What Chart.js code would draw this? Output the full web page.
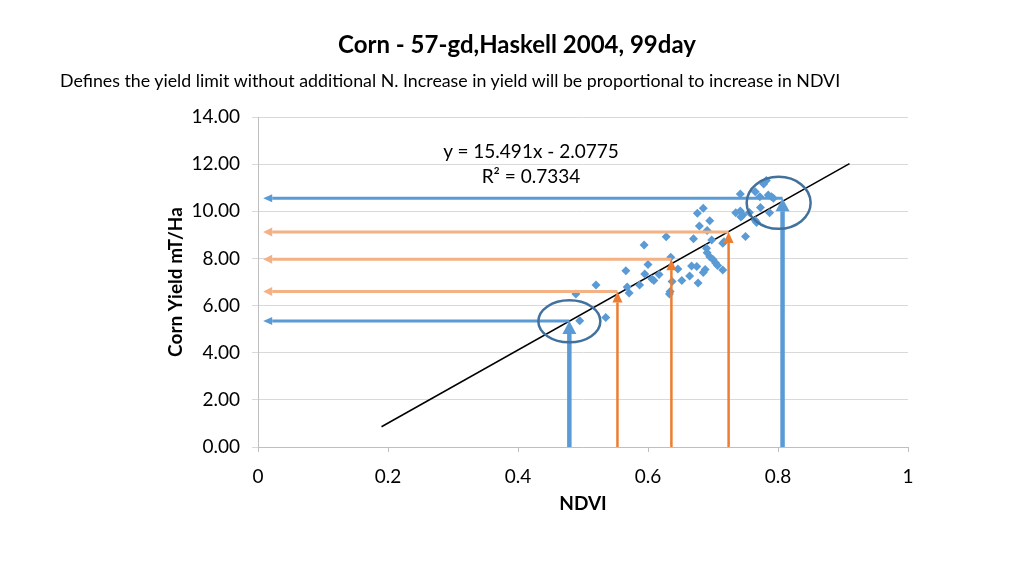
<!DOCTYPE html>
<html>
<head>
<meta charset="utf-8">
<script src="https://cdn.jsdelivr.net/npm/chart.js@4.4.0/dist/chart.umd.min.js"></script>
<style>
body{margin:0;background:#fff;font-family:Lato,'Open Sans',sans-serif;}
#wrap{position:relative;width:1024px;height:576px;overflow:hidden;}
canvas{position:absolute;left:0;top:0;}
.t{position:absolute;white-space:nowrap;color:#000;}
#title{left:0;width:1034px;top:29px;text-align:center;font-size:24px;font-weight:bold;}
#sub{left:60px;top:69px;font-size:17.8px;}
#eq{left:381px;width:300px;top:139px;text-align:center;font-size:19px;}
#r2{left:381px;width:300px;top:164px;text-align:center;font-size:19px;}
</style>
</head>
<body>
<div id="wrap">
<canvas id="chart" width="1024" height="576"></canvas>
<div class="t" id="title">Corn - 57-gd,Haskell 2004, 99day</div>
<div class="t" id="sub">Defines the yield limit without additional N. Increase in yield will be proportional to increase in NDVI</div>
<div class="t" id="eq">y = 15.491x - 2.0775</div>
<div class="t" id="r2">R² = 0.7334</div>
</div>
<script>
// scatter data
const ndvi = [0.489,0.495,0.535,0.520,0.566,0.568,0.571,0.587,0.594,0.600,
              0.595,0.606,0.609,0.617,0.628,0.635,0.634,0.633,0.637,0.646,
              0.652,0.667,0.675,0.664,0.677,0.670,0.676,0.685,0.679,0.695,
              0.691,0.698,0.690,0.691,0.695,0.700,0.704,0.707,0.685,0.688,
              0.715,0.715,0.742,0.735,0.742,0.746,0.743,0.756,0.765,0.772,
              0.773,0.782,0.778,0.785,0.790,0.793,0.787,0.765,0.767,0.750,0.717];
const yieldT = [6.49,5.36,5.49,6.87,7.48,6.79,6.53,6.87,8.57,7.74,
                7.34,7.13,7.06,7.32,8.92,8.05,6.60,6.49,7.02,7.55,
                7.06,7.68,7.66,7.25,6.96,8.84,9.92,10.13,9.38,9.60,
                9.18,8.78,8.43,8.24,8.07,7.95,7.81,7.70,7.40,7.53,
                7.51,8.64,10.73,9.94,10.01,9.84,9.76,9.95,10.83,10.62,
                10.16,11.31,11.16,10.69,10.62,10.55,9.94,9.61,9.52,8.93,8.71];

// trend line end points
const trendX = [0.19, 0.91];
const trendY = [0.86, 12.02];

// reading arrows: ndvi where the arrow starts and yield level it points to
const blueNdvi = [0.479, 0.807];
const blueLevel = [5.35, 10.55];
const orangeNdvi = [0.553, 0.636, 0.724];
const orangeLevel = [6.6, 7.97, 9.12];
const arrowTipX = 0.008;

// circled points (centres)
const circleX = [0.479, 0.801];
const circleY = [5.33, 10.36];

const xTickLabels = ['0','0.2','0.4','0.6','0.8','1'];
const yTickLabels = ['0.00','2.00','4.00','6.00','8.00','10.00','12.00','14.00'];

const BLUE = '#5B9BD5', ORANGE = '#ED7D31', PEACH = '#F4B183', RING = '#41719C';

function arrow(ctx, x0, y0, x1, y1, color, width, head, headW){
  const ang = Math.atan2(y1 - y0, x1 - x0);
  const bx = x1 - head * Math.cos(ang), by = y1 - head * Math.sin(ang);
  ctx.strokeStyle = color; ctx.lineWidth = width;
  ctx.beginPath(); ctx.moveTo(x0, y0); ctx.lineTo(bx, by); ctx.stroke();
  ctx.fillStyle = color;
  ctx.beginPath();
  ctx.moveTo(x1, y1);
  ctx.lineTo(bx + headW/2 * Math.sin(ang), by - headW/2 * Math.cos(ang));
  ctx.lineTo(bx - headW/2 * Math.sin(ang), by + headW/2 * Math.cos(ang));
  ctx.closePath(); ctx.fill();
}

const overlay = {
  id: 'overlay',
  afterDatasetsDraw(chart){
    const ctx = chart.ctx, xs = chart.scales.x, ys = chart.scales.y;
    ctx.save();
    // horizontal readings
    orangeNdvi.forEach((v, i) => {
      const yy = ys.getPixelForValue(orangeLevel[i]);
      arrow(ctx, xs.getPixelForValue(v), yy, xs.getPixelForValue(arrowTipX), yy, PEACH, 3, 9, 9);
    });
    blueNdvi.forEach((v, i) => {
      const yy = ys.getPixelForValue(blueLevel[i]);
      arrow(ctx, xs.getPixelForValue(v), yy, xs.getPixelForValue(arrowTipX), yy, BLUE, 3, 9, 8);
    });
    // vertical arrows from the axis
    orangeNdvi.forEach((v, i) => {
      const xx = xs.getPixelForValue(v);
      arrow(ctx, xx, ys.getPixelForValue(0), xx, ys.getPixelForValue(orangeLevel[i]), ORANGE, 2.5, 11, 10);
    });
    blueNdvi.forEach((v, i) => {
      const xx = xs.getPixelForValue(v);
      arrow(ctx, xx, ys.getPixelForValue(0), xx, ys.getPixelForValue(blueLevel[i]), BLUE, 4.5, 13, 14);
    });
    // rings
    ctx.strokeStyle = RING; ctx.lineWidth = 2.5;
    const radii = [[31, 21], [32, 26]];
    circleX.forEach((v, i) => {
      ctx.beginPath();
      ctx.ellipse(xs.getPixelForValue(v), ys.getPixelForValue(circleY[i]), radii[i][0], radii[i][1], 0, 0, Math.PI * 2);
      ctx.stroke();
    });
    ctx.restore();
  }
};

const tickFont = {family: 'Lato', size: 19};
const titleFont = {family: 'Lato', size: 19, weight: 'bold'};

new Chart(document.getElementById('chart').getContext('2d'), {
  type: 'scatter',
  data: {
    datasets: [{
      label: 'Yield',
      data: ndvi.map((v, i) => ({x: v, y: yieldT[i]})),
      pointStyle: 'rectRot',
      pointRadius: 4.5,
      backgroundColor: BLUE,
      borderColor: BLUE,
      borderWidth: 0
    }, {
      label: 'Trend',
      type: 'line',
      data: trendX.map((v, i) => ({x: v, y: trendY[i]})),
      borderColor: '#000',
      borderWidth: 1.5,
      pointRadius: 0,
      fill: false
    }]
  },
  options: {
    responsive: false,
    animation: false,
    devicePixelRatio: 1,
    layout: {padding: {left: 164, right: 116, top: 117, bottom: 61}},
    plugins: {legend: {display: false}, tooltip: {enabled: false}},
    scales: {
      x: {
        type: 'linear', min: 0, max: 1,
        afterFit: s => { s.height = 68; },
        ticks: {stepSize: 0.2, color: '#000', font: tickFont, padding: 13,
                callback: (v, i) => xTickLabels[i]},
        grid: {drawOnChartArea: false, tickLength: 5, color: '#bfbfbf'},
        border: {color: '#bfbfbf'},
        title: {display: true, text: 'NDVI', color: '#000', font: titleFont, padding: 0}
      },
      y: {
        min: 0, max: 14,
        afterFit: s => { s.width = 94; },
        ticks: {stepSize: 2, color: '#000', font: tickFont, padding: 12,
                callback: (v, i) => yTickLabels[i]},
        grid: {color: '#d9d9d9', tickLength: 6},
        border: {color: '#bfbfbf'},
        title: {display: true, text: 'Corn Yield mT/Ha', color: '#000', font: titleFont, padding: 0}
      }
    }
  },
  plugins: [overlay]
});
</script>
</body>
</html>
